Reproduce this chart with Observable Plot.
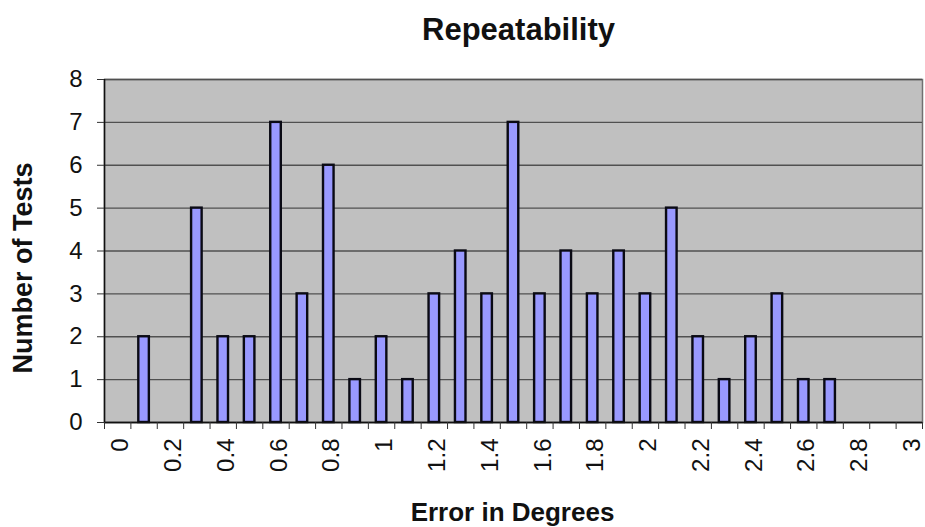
<!DOCTYPE html>
<html>
<head>
<meta charset="utf-8">
<script src="https://cdn.jsdelivr.net/npm/d3@7"></script>
<script src="https://cdn.jsdelivr.net/npm/@observablehq/plot@0.6"></script>
<style>
  html, body { margin: 0; padding: 0; background: #ffffff; }
</style>
</head>
<body>
<div id="chart"></div>
<script>
const chartTitle = "Repeatability";
const xTitle = "Error in Degrees";
const yTitle = "Number of Tests";
const categories = ["0","0.1","0.2","0.3","0.4","0.5","0.6","0.7","0.8","0.9","1","1.1","1.2","1.3","1.4","1.5","1.6","1.7","1.8","1.9","2","2.1","2.2","2.3","2.4","2.5","2.6","2.7","2.8","2.9","3"];
const counts = [0,2,0,5,2,2,7,3,6,1,2,1,3,4,3,7,3,4,3,4,3,5,2,1,2,3,1,1,0,0,0];
const xTickLabels = ["0","0.2","0.4","0.6","0.8","1","1.2","1.4","1.6","1.8","2","2.2","2.4","2.6","2.8","3"];
const yTicks = [0,1,2,3,4,5,6,7,8];

const data = categories.map((c, i) => ({cat: c, count: counts[i]}));

const W = 925, H = 527;
const ml = 104, mr = 3, mt = 79, mb = 105;
const step = (W - ml - mr) / categories.length;
const font = "'Liberation Sans', Arial, sans-serif";

const chart = Plot.plot({
  width: W,
  height: H,
  marginLeft: ml,
  marginRight: mr,
  marginTop: mt,
  marginBottom: mb,
  style: {fontFamily: font, background: "#ffffff", color: "#111", overflow: "visible"},
  x: {type: "band", domain: categories, paddingInner: 0.6, paddingOuter: 0.3, round: false},
  y: {domain: [0, 8]},
  marks: [
    Plot.frame({fill: "#c0c0c0", stroke: "#707070", strokeWidth: 1.5}),
    Plot.gridY(yTicks, {stroke: "#505050", strokeOpacity: 1, strokeWidth: 1.3}),
    Plot.barY(data, {x: "cat", y: "count", fill: "#9999ff", stroke: "#0a0a14", strokeWidth: 2.4}),
    Plot.ruleY([0], {stroke: "#111", strokeWidth: 1.5}),
    Plot.ruleX([categories[0]], {dx: -step / 2, stroke: "#111", strokeWidth: 1.5}),
    Plot.axisY(yTicks, {tickSize: 7, tickPadding: 15, fontSize: 24, label: null, stroke: "#333"}),
    Plot.axisX(categories, {tickSize: 7, tickFormat: () => "", dx: -step / 2, label: null, stroke: "#333"}),
    Plot.axisX([categories[categories.length - 1]], {tickSize: 7, tickFormat: () => "", dx: step / 2, label: null, stroke: "#333"}),
    Plot.axisX(xTickLabels, {tickSize: 0, tickPadding: 16, tickRotate: -90, fontSize: 24, label: null, dx: 3}),
    Plot.text([chartTitle], {frameAnchor: "top", textAnchor: "middle", lineAnchor: "middle", dx: 5, dy: -49, fontSize: 31, fontWeight: "bold", fill: "#111"}),
    Plot.text([xTitle], {frameAnchor: "bottom", textAnchor: "middle", lineAnchor: "middle", dx: -1, dy: 90, fontSize: 26, fontWeight: "bold", fill: "#111"}),
    Plot.text([yTitle], {frameAnchor: "left", textAnchor: "middle", lineAnchor: "middle", rotate: -90, dx: -81, dy: 17, fontSize: 27, fontWeight: "bold", fill: "#111"})
  ]
});
document.getElementById("chart").appendChild(chart);
</script>
</body>
</html>
